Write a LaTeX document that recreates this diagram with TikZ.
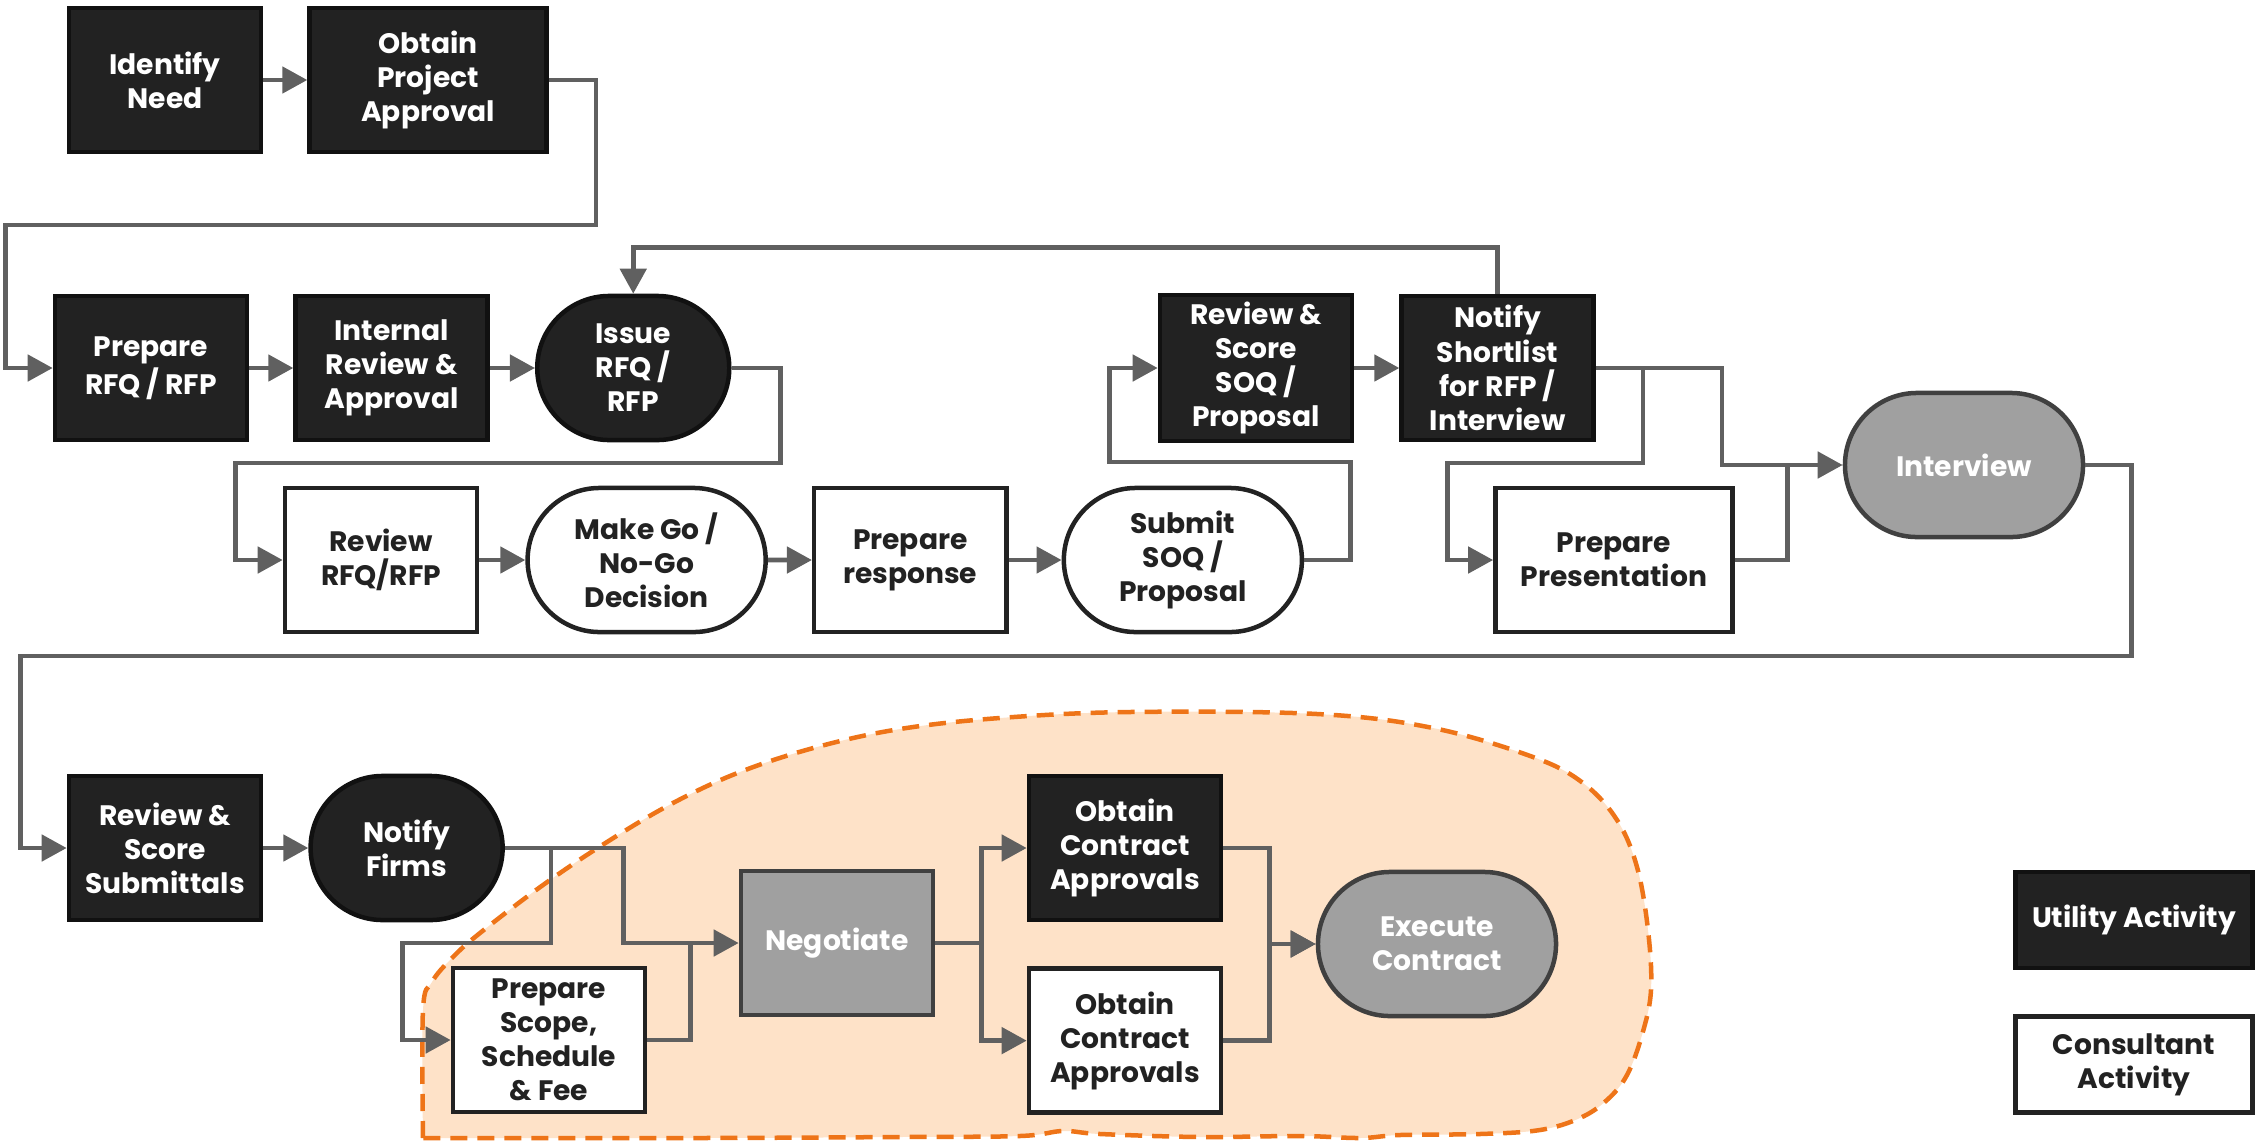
\documentclass[tikz,border=0pt]{standalone}
\usepackage{fontspec}
\setmainfont{Poppins}
\usetikzlibrary{arrows.meta,positioning,shapes.misc}
\definecolor{utilfill}{HTML}{222222}
\definecolor{utilline}{HTML}{111111}
\definecolor{consline}{HTML}{222222}
\definecolor{jointfill}{HTML}{A0A0A0}
\definecolor{jointline}{HTML}{404040}
\definecolor{flowgray}{HTML}{606060}
\definecolor{negfill}{HTML}{FEE2C8}
\definecolor{negline}{HTML}{EE7418}

\begin{document}
\begin{tikzpicture}[
  x=0.01cm, y=-0.01cm,
  font=\fontsize{8}{9.7}\selectfont\bfseries,
  node distance=0.44cm and 0.45cm,
  arrow/.style={-{Triangle[length=0.25cm, width=0.26cm]}, line width=0.048cm, draw=flowgray},
  link/.style={line width=0.048cm, draw=flowgray},
  block/.style={rectangle, align=center, line width=0.045cm,
    minimum width=1.92cm, minimum height=1.44cm, inner sep=2pt},
  utility/.style={block, fill=utilfill, draw=utilline, text=white},
  consultant/.style={block, fill=white, draw=consline, text=consline},
  joint/.style={block, fill=jointfill, draw=jointline, text=white},
  wide/.style={minimum width=2.37cm},
  terminal/.style={rounded rectangle, minimum width=2.06cm},
  wideterminal/.style={rounded rectangle, minimum width=2.52cm},
  legend/.style={wide, minimum height=0.96cm},
  region/.style={fill=negfill, draw=negline, line width=0.045cm, dash pattern=on 0.17cm off 0.1cm}
]
\useasboundingbox (0,0) rectangle (2260,1142);

% negotiation area
\draw[region] plot[smooth, tension=0.6] coordinates {
  (423,1138) (423,1010) (432,982) (452,958) (480,933) (543,885) (607,842)
  (673,803) (740,772) (817,747) (900,729) (1000,718) (1130,712) (1317,714)
  (1433,728) (1533,757) (1583,783) (1617,820) (1637,867) (1648,930) (1651,990)
  (1642,1035) (1627,1075) (1607,1100) (1580,1118) (1540,1130) (1480,1134)
  (1400,1135) (1360,1138) (1300,1136) (1200,1137) (1100,1134) (1063,1131)
  (1020,1136) (900,1137) (700,1138) (423,1138)} -- cycle;

% row 1
\node[utility] (need) at (165,80) {Identify\\Need};
\node[utility, wide, right=0.44cm of need] (projappr) {Obtain\\Project\\Approval};

% row 2
\node[utility] (prep) at (151,368) {Prepare\\RFQ / RFP};
\node[utility, right=0.44cm of prep] (intrev) {Internal\\Review \&\\Approval};
\node[utility, terminal, right=0.45cm of intrev] (issue) {Issue\\RFQ /\\RFP};
\node[utility] (revsoq) at (1256,368) {Review \&\\Score\\SOQ /\\Proposal};
\node[utility, right=0.45cm of revsoq] (shortlist) {Notify\\Shortlist\\for RFP /\\Interview};

% row 3
\node[consultant] (revrfq) at (381,560) {Review\\RFQ/RFP};
\node[consultant, wideterminal, right=0.46cm of revrfq] (gonogo) {Make Go /\\No-Go\\Decision};
\node[consultant, right=0.44cm of gonogo] (prepresp) {Prepare\\response};
\node[consultant, wideterminal, right=0.53cm of prepresp] (submit) {Submit\\SOQ /\\Proposal};
\node[consultant, wide] (preppres) at (1614,560) {Prepare\\Presentation};
\node[joint, wideterminal] (interview) at (1964,465) {Interview};

% row 4
\node[utility] (revsub) at (165,848) {Review \&\\Score\\Submittals};
\node[utility, terminal, right=0.45cm of revsub] (notify) {Notify\\Firms};
\node[consultant] (scope) at (549,1040) {Prepare\\Scope,\\Schedule\\\& Fee};
\node[joint] (negot) at (837,943) {Negotiate};
\node[utility] (obtutil) at (1125,848) {Obtain\\Contract\\Approvals};
\node[consultant, below=0.44cm of obtutil] (obtcons) {Obtain\\Contract\\Approvals};
\node[joint, wideterminal] (execute) at (1437,944) {Execute\\Contract};

% legend
\node[utility, legend] (legutil) at (2134,920) {Utility Activity};
\node[consultant, legend, below=0.44cm of legutil] (legcons) {Consultant\\Activity};

% connectors
\draw[arrow] (need) -- (projappr);
\draw[arrow] (projappr.east) -- ++(47,0) -- ++(0,145) -| ([xshift=-0.47cm]prep.west) -- (prep.west);
\draw[arrow] (prep) -- (intrev);
\draw[arrow] (intrev) -- (issue);
\draw[arrow] (issue.east) -- ++(49,0) -- ++(0,95) -| ([xshift=-0.47cm]revrfq.west) -- (revrfq.west);
\draw[arrow] (revrfq) -- (gonogo);
\draw[arrow] (gonogo) -- (prepresp);
\draw[arrow] (prepresp) -- (submit);
\draw[arrow] (submit.east) -- ++(46,0) -- ++(0,-98) -| ([xshift=-0.48cm]revsoq.west) -- (revsoq.west);
\draw[arrow] (revsoq) -- (shortlist);
\draw[arrow] (shortlist.north) -- ++(0,-46) -| (issue.north);
\draw[arrow] (shortlist.east) -- ++(126,0) |- (interview.west);
\draw[arrow] ([xshift=0.47cm]shortlist.east) -- ++(0,95) -| ([xshift=-0.46cm]preppres.west) -- (preppres.west);
\draw[link] (preppres.east) -| ([xshift=-0.55cm]interview.west);
\draw[arrow] (interview.east) -- ++(46,0) -- ++(0,191) -| ([xshift=-0.46cm]revsub.west) -- (revsub.west);
\draw[arrow] (revsub) -- (notify);
\draw[arrow] (notify.east) -- ++(119,0) |- (negot.west);
\draw[arrow] ([xshift=0.46cm]notify.east) -- ++(0,95) -| ([xshift=-0.48cm]scope.west) -- (scope.west);
\draw[link] (scope.east) -| ([xshift=-0.48cm]negot.west);
\draw[arrow] (negot.east) -- ++(46,0) |- (obtutil.west);
\draw[arrow] (negot.east) -- ++(46,0) |- (obtcons.west);
\draw[arrow] (obtutil.east) -- ++(46,0) |- (execute.west);
\draw[arrow] (obtcons.east) -- ++(46,0) |- (execute.west);

\end{tikzpicture}
\end{document}
